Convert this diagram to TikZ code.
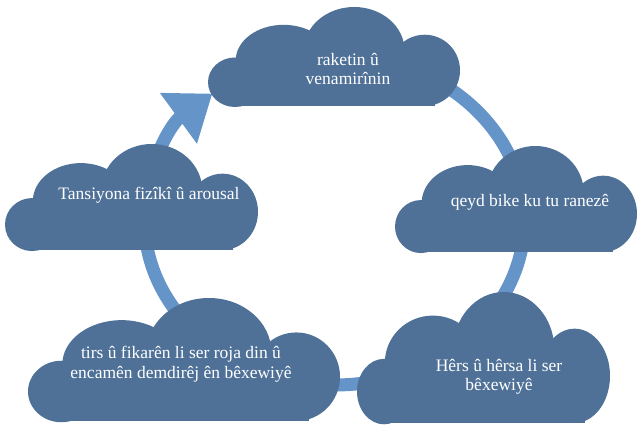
\documentclass[tikz,border=0pt]{standalone}
\usepackage{fontspec}
\setmainfont{Liberation Serif}
\usetikzlibrary{arrows.meta,positioning}
\definecolor{cloudblue}{RGB}{79,113,152}
\definecolor{ringblue}{RGB}{101,148,201}
\tikzset{
  cloudtext/.style={text=white,align=center,inner sep=1pt,font=\fontsize{17.5}{19.5}\selectfont},
  ring/.style={draw=ringblue,line width=13pt,-{Triangle[length=42pt,width=60pt]}},
  pics/puff/.style 2 args={code={
    \begin{scope}[xscale=#1,yscale=#2]
      \fill[cloudblue] (0.107,0.24) ellipse [x radius=0.107,y radius=0.25];
      \fill[cloudblue] (0.30,0.46) ellipse [x radius=0.19,y radius=0.36];
      \fill[cloudblue] (0.58,0.56) ellipse [x radius=0.20,y radius=0.44];
      \fill[cloudblue] (0.86,0.36) ellipse [x radius=0.14,y radius=0.36];
      \fill[cloudblue] (0.08,0) rectangle (0.90,0.40);
    \end{scope}}}
}

\begin{document}
\begin{tikzpicture}[x=1pt,y=1pt]
  \useasboundingbox (0,0) rectangle (639,424);
  \coordinate (hub) at (334.5,204);
  \draw[ring] (hub) ++(90:190 and 165) arc[start angle=90,end angle=-230,x radius=190,y radius=165];

  \pic at (208,318) {puff={252}{99}};
  \pic at (395,172) {puff={242}{106}};
  \pic at (357,1) {puff={253}{131}};
  \pic at (28,3) {puff={312}{123}};
  \pic at (5,174) {puff={253}{106}};

  \node[cloudtext] (rockets) at (348,355) {raketin û\\venamirînin};
  \node[cloudtext] (notes) at (530,222) {qeyd bike ku tu ranezê};
  \node[cloudtext] (anger) at (499,47) {Hêrs û hêrsa li ser\\bêxewiyê};
  \node[cloudtext] (worry) at (181,60) {tirs û fikarên li ser roja din û\\encamên demdirêj ên bêxewiyê};
  \node[cloudtext] (tension) at (149,229) {Tansiyona fizîkî û arousal};
\end{tikzpicture}
\end{document}
